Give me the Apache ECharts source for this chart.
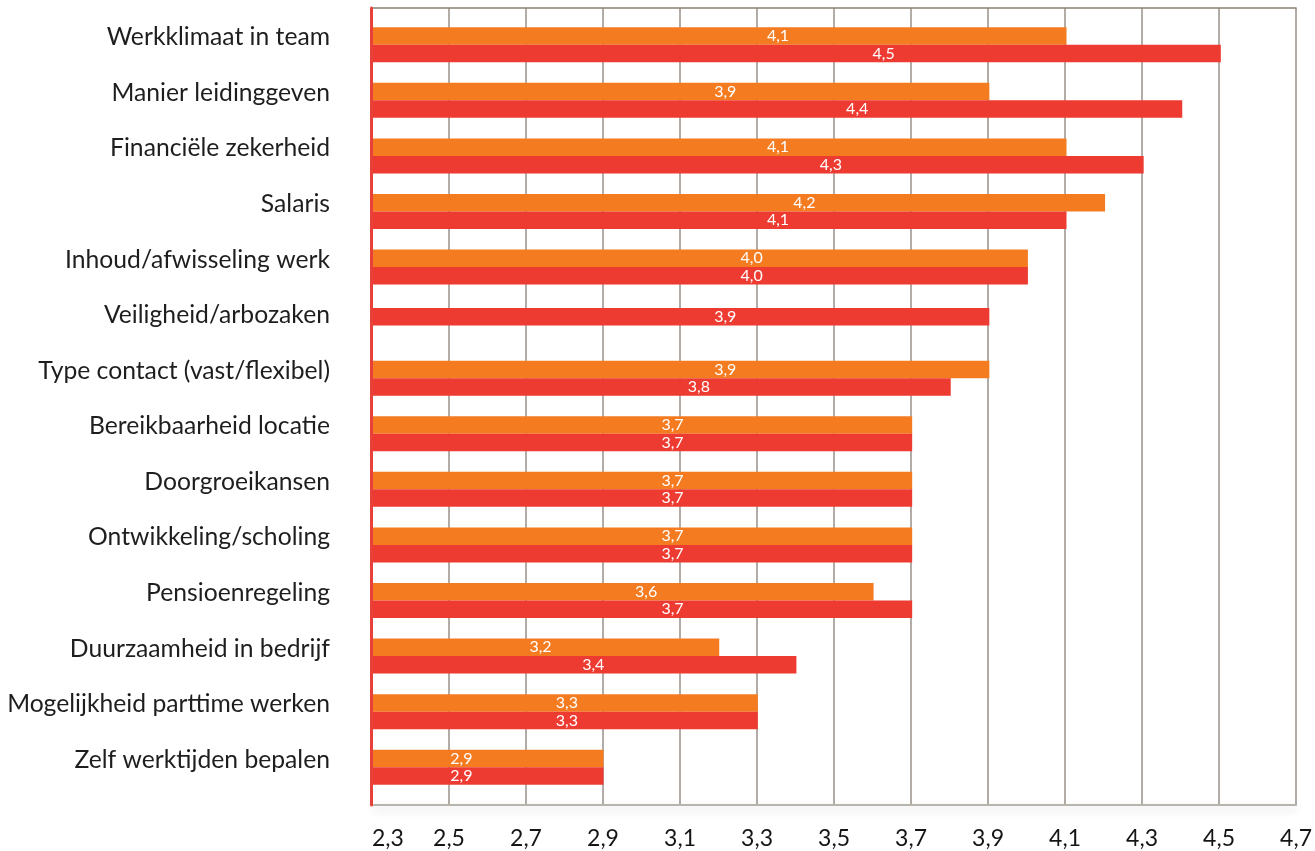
<!DOCTYPE html>
<html>
<head>
<meta charset="utf-8">
<script src="https://cdn.jsdelivr.net/npm/echarts@6/dist/echarts.min.js"></script>
<style>
  html, body { margin: 0; padding: 0; background: #ffffff; }
  #chart { width: 1315px; height: 851px; }
</style>
</head>
<body>
<div id="chart"></div>
<script>
const categories = [
  'Werkklimaat in team',
  'Manier leidinggeven',
  'Financiële zekerheid',
  'Salaris',
  'Inhoud/afwisseling werk',
  'Veiligheid/arbozaken',
  'Type contact (vast/flexibel)',
  'Bereikbaarheid locatie',
  'Doorgroeikansen',
  'Ontwikkeling/scholing',
  'Pensioenregeling',
  'Duurzaamheid in bedrijf',
  'Mogelijkheid parttime werken',
  'Zelf werktijden bepalen'
];
const orangeValues = [4.1, 3.9, 4.1, 4.2, 4.0, null, 3.9, 3.7, 3.7, 3.7, 3.6, 3.2, 3.3, 2.9];
const redValues    = [4.5, 4.4, 4.3, 4.1, 4.0, 3.9, 3.8, 3.7, 3.7, 3.7, 3.7, 3.4, 3.3, 2.9];
const xTickValues  = [2.3, 2.5, 2.7, 2.9, 3.1, 3.3, 3.5, 3.7, 3.9, 4.1, 4.3, 4.5, 4.7];
const xMin = 2.3, xMax = 4.7;

const ORANGE = '#F47B20';
const RED = '#EE3B31';
const FONT = 'Lato';

const fmt = v => Number(v).toFixed(1).replace('.', ',');

const valueLabel = {
  show: true,
  position: ['68.4%', '50%'],
  offset: [-69, 0],
  align: 'center',
  verticalAlign: 'middle',
  color: '#ffffff',
  fontFamily: FONT,
  fontSize: 16,
  formatter: p => fmt(p.value)
};

const chart = echarts.init(document.getElementById('chart'), null, { renderer: 'canvas' });
chart.setOption({
  animation: false,
  backgroundColor: '#ffffff',
  grid: [
    { left: 372, right: 17, top: 8, bottom: 46 },
    { left: 372, right: 17, top: 17, height: 778 },
    { left: 372, right: 17, top: 11, height: 778 }
  ],
  xAxis: [
    {
      gridIndex: 0, type: 'value', min: xMin, max: xMax,
      axisLine: { show: true, lineStyle: { color: '#b8b3ad', width: 2, shadowColor: 'rgba(0,0,0,0.18)', shadowBlur: 8, shadowOffsetY: 4 } },
      axisTick: { show: false, customValues: xTickValues },
      axisLabel: {
        customValues: xTickValues,
        formatter: v => fmt(v),
        color: '#151515', fontFamily: FONT, fontSize: 23, margin: 22,
        alignMinLabel: 'left'
      },
      splitLine: { show: true, lineStyle: { color: '#9a9188', width: 1.5 } }
    },
    { gridIndex: 1, type: 'value', min: xMin, max: xMax, show: false },
    {
      gridIndex: 0, type: 'value', min: xMin, max: xMax, position: 'top',
      axisLine: { show: true, lineStyle: { color: '#8a8176', width: 1.5 } },
      axisTick: { show: false }, axisLabel: { show: false }, splitLine: { show: false }
    },
    { gridIndex: 2, type: 'value', min: xMin, max: xMax, show: false }
  ],
  yAxis: [
    {
      gridIndex: 0, type: 'value', min: 0, max: 1, z: 10, offset: 1,
      axisLine: { show: true, lineStyle: { color: '#E8413A', width: 3 } },
      axisTick: { show: false }, axisLabel: { show: false }, splitLine: { show: false }
    },
    {
      gridIndex: 1, type: 'category', data: categories, inverse: true,
      axisLine: { show: false }, axisTick: { show: false },
      axisLabel: {
        color: '#1e1e1e', fontFamily: FONT, fontSize: 24.7, margin: 42,
        verticalAlign: 'bottom', lineHeight: 15
      },
      splitLine: { show: false }
    },
    { gridIndex: 2, type: 'category', data: categories, inverse: true, show: false }
  ],
  series: [
    {
      name: 'oranje', type: 'bar', xAxisIndex: 1, yAxisIndex: 1,
      data: orangeValues.map(v => v == null ? '-' : v),
      barWidth: 17.5, barGap: '0%',
      itemStyle: { color: ORANGE },
      label: valueLabel
    },
    {
      name: 'rood', type: 'bar', xAxisIndex: 1, yAxisIndex: 1,
      data: redValues.map((v, i) => orangeValues[i] == null ? '-' : v),
      barWidth: 17.5, barGap: '0%',
      itemStyle: { color: RED },
      label: valueLabel
    },
    {
      name: 'rood-enkel', type: 'bar', xAxisIndex: 3, yAxisIndex: 2,
      data: redValues.map((v, i) => orangeValues[i] == null ? v : '-'),
      barWidth: 17.5,
      itemStyle: { color: RED },
      label: valueLabel
    }
  ]
});
</script>
</body>
</html>
